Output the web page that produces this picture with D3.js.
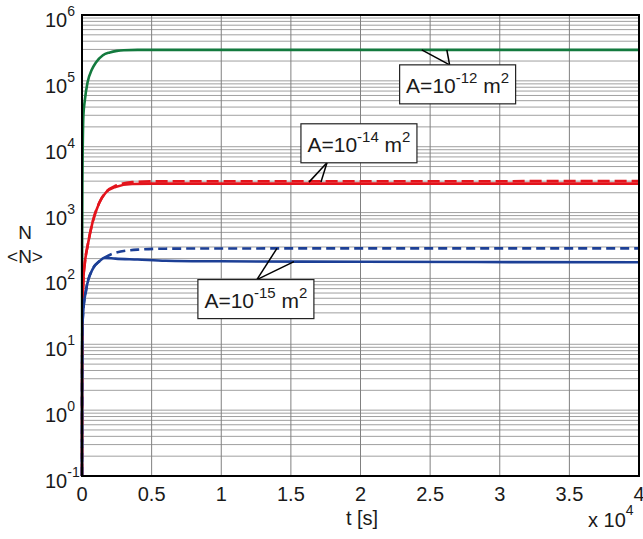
<!DOCTYPE html>
<html>
<head>
<meta charset="utf-8">
<script src="https://cdn.jsdelivr.net/npm/d3@7"></script>
<style>
  body { margin: 0; background: #fff; }
  svg { display: block; font-family: "Liberation Sans", Arial, sans-serif; }
</style>
</head>
<body>
<svg id="chart" width="643" height="539"></svg>
<script>
// axis ticks
const xTicks = [0, 5000, 10000, 15000, 20000, 25000, 30000, 35000, 40000];
const xTickLabels = ["0", "0.5", "1", "1.5", "2", "2.5", "3", "3.5", "4"];
const yDecades = [-1, 0, 1, 2, 3, 4, 5, 6];

// A=1e-12 (green)
const greenT = [0, 10, 30, 100, 200, 400, 700, 1000, 1500, 2000, 2500, 3000, 4000, 6000, 40000];
const greenN = [0.1, 300, 3000, 3e4, 5e4, 9.5e4, 1.47e5, 1.9e5, 2.45e5, 2.7e5, 2.85e5, 2.92e5, 2.95e5, 2.95e5, 2.95e5];

// A=1e-14 (red), solid = N, dashed = <N>
const redT = [0, 10, 50, 100, 200, 400, 750, 1250, 1700, 2400, 3600, 5000, 40000];
const redN = [0.1, 5, 40, 97, 170, 310, 700, 1420, 2000, 2450, 2720, 2750, 2750];
const redMeanN = [0.1, 5, 40, 97, 170, 310, 700, 1420, 2020, 2550, 2900, 2980, 3000];

// A=1e-15 (blue), solid = N, dashed = <N>
const blueT = [0, 5, 20, 80, 300, 750, 1250, 1600, 2400, 4000, 6000, 10000, 20000, 40000];
const blueN = [0.1, 2, 15, 30, 68, 137, 182, 205, 200, 194, 186, 182, 179, 176];
const blueMeanN = [0.1, 2, 15, 30, 68, 137, 182, 205, 245, 274, 283, 285, 286, 286];

// annotations
const annExp = ["-12", "-14", "-15"];
const annApexT = [26400, 17590, 12560];
const annApexN = [1.75e5, 5.7e3, 96];
const annTipT = [[24400, 26200], [16300, 17160], [14000, 15220]];
const annTipN = [[2.95e5, 2.95e5], [2.9e3, 2.9e3], [286, 180]];

const svg = d3.select("#chart");
const margin = {left: 82, right: 4, top: 15, bottom: 63};
const W = 643, H = 539;
const x = d3.scaleLinear().domain([0, 40000]).range([margin.left, W - margin.right]);
const y = d3.scaleLog().domain([0.1, 1e6]).range([H - margin.bottom, margin.top]);
const ink = "#1a1a1a";

// grid
const grid = svg.append("g");
const minorVals = [];
yDecades.slice(0, -1).forEach(d => {
  for (let k = 1; k <= 9; k++) minorVals.push(k * Math.pow(10, d));
});
minorVals.push(1e6);
grid.selectAll("line.h").data(minorVals).join("line")
  .attr("x1", x(0)).attr("x2", x(40000))
  .attr("y1", d => y(d)).attr("y2", d => y(d))
  .attr("stroke", "#959595").attr("stroke-width", 0.9);
grid.selectAll("line.v").data(xTicks.slice(1, -1)).join("line")
  .attr("x1", d => x(d)).attr("x2", d => x(d))
  .attr("y1", y(0.1)).attr("y2", y(1e6))
  .attr("stroke", "#808080").attr("stroke-width", 1);

// curves
function drawLine(T, N, color, dash) {
  const pts = T.map((t, i) => [t, N[i]]);
  svg.append("path")
    .datum(pts)
    .attr("fill", "none")
    .attr("stroke", color)
    .attr("stroke-width", 2.6)
    .attr("stroke-dasharray", dash || null)
    .attr("d", d3.line().x(d => x(d[0])).y(d => y(d[1])).curve(d3.curveMonotoneX));
}
drawLine(greenT, greenN, "#137a3e");
drawLine(redT, redN, "#e3141c");
drawLine(redT, redMeanN, "#e3141c", "12,5");
drawLine(blueT, blueN, "#1c3f96");
drawLine(blueT, blueMeanN, "#1c3f96", "9,5");

// frame
svg.append("rect")
  .attr("x", x(0)).attr("y", y(1e6))
  .attr("width", x(40000) - x(0)).attr("height", y(0.1) - y(1e6))
  .attr("fill", "none").attr("stroke", "#000").attr("stroke-width", 2);

// y tick labels
const yl = svg.append("g").attr("font-size", 20).attr("fill", ink);
yDecades.forEach(d => {
  const t = yl.append("text").attr("x", 45).attr("y", y(Math.pow(10, d)) + 12);
  t.append("tspan").text("10");
  t.append("tspan").attr("font-size", 14).attr("dy", -11).text(d);
});

// x tick labels
svg.append("g").attr("font-size", 20).attr("fill", ink)
  .selectAll("text").data(xTicks).join("text")
  .attr("x", d => x(d)).attr("y", y(0.1) + 25)
  .attr("text-anchor", "middle")
  .text((d, i) => xTickLabels[i]);

// axis labels
svg.append("text").attr("x", 362).attr("y", 525).attr("text-anchor", "middle")
  .attr("font-size", 20).attr("fill", ink).text("t [s]");
const sc = svg.append("text").attr("x", 588).attr("y", 527).attr("font-size", 20).attr("fill", ink);
sc.append("tspan").text("x 10");
sc.append("tspan").attr("font-size", 14).attr("dy", -12).text("4");
svg.append("text").attr("x", 25).attr("y", 239).attr("text-anchor", "middle")
  .attr("font-size", 19).attr("fill", ink).text("N");
svg.append("text").attr("x", 25).attr("y", 263).attr("text-anchor", "middle")
  .attr("font-size", 19).attr("fill", ink).text("<N>");

// annotation boxes
const boxW = 116, boxH = 39;
const boxOffX = [50, 26, 59];
const boxAbove = [false, true, false];
annExp.forEach((e, i) => {
  const ax = x(annApexT[i]), ay = y(annApexN[i]);
  annTipT[i].forEach((tt, j) => {
    svg.append("line")
      .attr("x1", ax).attr("y1", ay)
      .attr("x2", x(tt)).attr("y2", y(annTipN[i][j]))
      .attr("stroke", "#000").attr("stroke-width", 1.5);
  });
  const bx = ax - boxOffX[i];
  const by = boxAbove[i] ? ay - boxH : ay;
  svg.append("rect").attr("x", bx).attr("y", by)
    .attr("width", boxW).attr("height", boxH)
    .attr("fill", "#fff").attr("stroke", "#222").attr("stroke-width", 1.2);
  const t = svg.append("text").attr("x", bx + boxW / 2).attr("y", by + 28)
    .attr("text-anchor", "middle").attr("font-size", 21).attr("fill", ink);
  t.append("tspan").text("A=10");
  t.append("tspan").attr("font-size", 15).attr("dy", -10).text(e);
  t.append("tspan").attr("dy", 10).text(" m");
  t.append("tspan").attr("font-size", 15).attr("dy", -10).text("2");
});
</script>
</body>
</html>
